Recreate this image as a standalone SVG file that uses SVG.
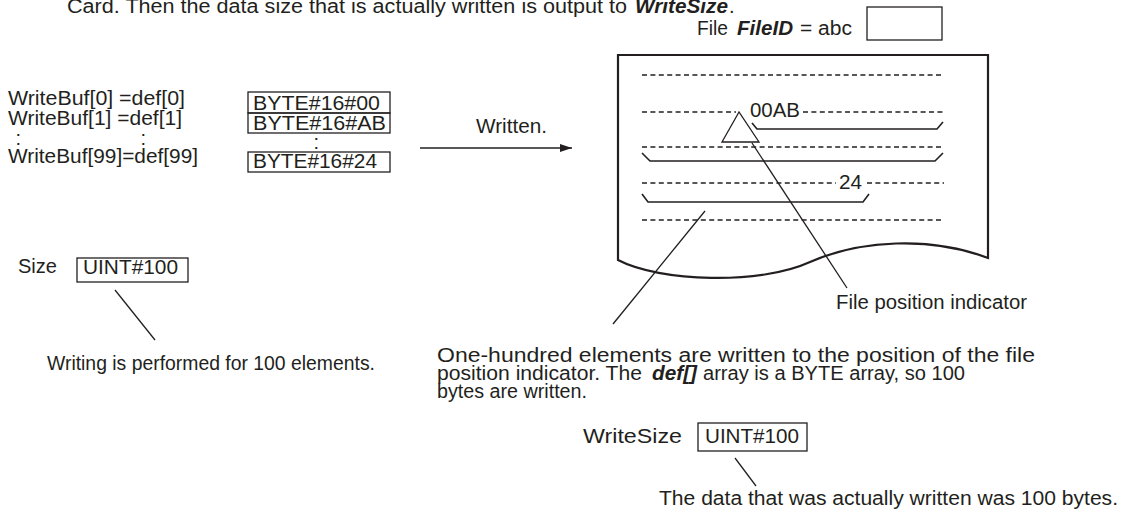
<svg xmlns="http://www.w3.org/2000/svg" width="1129" height="517" viewBox="0 0 1129 517">
<defs>
<style>
text{font-family:"Liberation Sans",Arial,sans-serif;font-size:20px;fill:#231f20}
.bi{font-weight:bold;font-style:italic}
.box{fill:none;stroke:#231f20;stroke-width:1.3}
.ln{fill:none;stroke:#231f20;stroke-width:1.3}
.dash{fill:none;stroke:#231f20;stroke-width:1.4;stroke-dasharray:5 3.4}
.page{fill:#fff;stroke:#231f20;stroke-width:2.2}
.brk{fill:none;stroke:#231f20;stroke-width:1.6}
</style>
<marker id="ah" viewBox="0 0 12 8" refX="12" refY="4" markerWidth="12" markerHeight="8" markerUnits="userSpaceOnUse" orient="auto">
<path d="M0,0 L12,4 L0,8 Z" fill="#231f20"/>
</marker>
</defs>
<rect width="1129" height="517" fill="#fff"/>

<g id="title">
<text x="67" y="12.5" textLength="560" lengthAdjust="spacingAndGlyphs">Card. Then the data size that is actually written is output to</text>
<text class="bi" x="635" y="12.5" textLength="93" lengthAdjust="spacingAndGlyphs">WriteSize</text>
<text x="729" y="12.5">.</text>
</g>

<g id="file-id">
<text x="697" y="35" textLength="31" lengthAdjust="spacingAndGlyphs">File</text>
<text class="bi" x="737" y="35" textLength="56" lengthAdjust="spacingAndGlyphs">FileID</text>
<text x="800" y="35" textLength="52" lengthAdjust="spacingAndGlyphs">= abc</text>
<rect class="box" x="867" y="7" width="75" height="33"/>
</g>

<g id="writebuf">
<text x="8" y="105" textLength="177" lengthAdjust="spacingAndGlyphs">WriteBuf[0] =def[0]</text>
<text x="8" y="125" textLength="174" lengthAdjust="spacingAndGlyphs">WriteBuf[1] =def[1]</text>
<text x="15.5" y="145">:</text>
<text x="140.5" y="145">:</text>
<text x="8" y="163" textLength="190" lengthAdjust="spacingAndGlyphs">WriteBuf[99]=def[99]</text>
</g>

<g id="byte-values">
<rect class="box" x="248" y="92" width="142" height="21"/>
<rect class="box" x="248" y="113" width="142" height="20"/>
<rect class="box" x="248" y="152" width="142" height="20"/>
<text x="253" y="110" textLength="127" lengthAdjust="spacingAndGlyphs">BYTE#16#00</text>
<text x="253" y="129.5" textLength="133" lengthAdjust="spacingAndGlyphs">BYTE#16#AB</text>
<text x="313.5" y="149">:</text>
<text x="253" y="168" textLength="124" lengthAdjust="spacingAndGlyphs">BYTE#16#24</text>
</g>

<g id="written-label">
<text x="476" y="133" textLength="71" lengthAdjust="spacingAndGlyphs">Written.</text>
</g>

<g id="file-page">
<path class="page" d="M618,260 L618,55 L988,55 L988,258 C930,236 860,240 810,262 C760,285 660,282 618,260 Z"/>
<line class="dash" x1="642" y1="75" x2="944" y2="75"/>
<line class="dash" x1="642" y1="112" x2="736" y2="112"/>
<line class="dash" x1="803" y1="112" x2="944" y2="112"/>
<line class="dash" x1="642" y1="147" x2="944" y2="147"/>
<line class="dash" x1="642" y1="183" x2="836" y2="183"/>
<line class="dash" x1="867" y1="183" x2="944" y2="183"/>
<line class="dash" x1="642" y1="220" x2="944" y2="220"/>
<text x="750" y="117" textLength="50" lengthAdjust="spacingAndGlyphs">00AB</text>
<text x="839" y="189" textLength="23" lengthAdjust="spacingAndGlyphs">24</text>
<path class="brk" d="M752,123 L757,129 L937,129 L943,122"/>
<path class="brk" d="M642,153 L650,161 L935,161 L943,153"/>
<path class="brk" d="M642,194 L648,202 L863,202 L869,194"/>
<path class="ln" d="M739,112 L722,142 L759,142 Z" fill="#fff"/>
</g>

<g id="size">
<text x="18" y="273" textLength="39" lengthAdjust="spacingAndGlyphs">Size</text>
<rect class="box" x="77" y="258" width="111" height="24"/>
<text x="83" y="274" textLength="95" lengthAdjust="spacingAndGlyphs">UINT#100</text>
</g>

<g id="size-note">
<text x="47" y="370" textLength="328" lengthAdjust="spacingAndGlyphs">Writing is performed for 100 elements.</text>
</g>

<g id="position-note">
<text x="836" y="309" textLength="191" lengthAdjust="spacingAndGlyphs">File position indicator</text>
</g>

<g id="write-note">
<text x="437" y="362" textLength="598" lengthAdjust="spacingAndGlyphs">One-hundred elements are written to the position of the file</text>
<text x="437" y="380" textLength="205" lengthAdjust="spacingAndGlyphs">position indicator. The</text>
<text class="bi" x="652" y="380" textLength="45" lengthAdjust="spacingAndGlyphs">def[]</text>
<text x="703" y="380" textLength="262" lengthAdjust="spacingAndGlyphs">array is a BYTE array, so 100</text>
<text x="437" y="398" textLength="150" lengthAdjust="spacingAndGlyphs">bytes are written.</text>
</g>

<g id="writesize">
<text x="583" y="443" textLength="99" lengthAdjust="spacingAndGlyphs">WriteSize</text>
<rect class="box" x="698" y="423" width="109" height="28"/>
<text x="705" y="443" textLength="94" lengthAdjust="spacingAndGlyphs">UINT#100</text>
</g>

<g id="writesize-note">
<text x="659" y="505" textLength="459" lengthAdjust="spacingAndGlyphs">The data that was actually written was 100 bytes.</text>
</g>

<g id="connectors">
<line class="ln" x1="420" y1="148" x2="572" y2="148" marker-end="url(#ah)"/>
<line class="ln" x1="752" y1="143" x2="847" y2="288"/>
<line class="ln" x1="705" y1="211" x2="613" y2="324"/>
<line class="ln" x1="115" y1="290" x2="155" y2="340"/>
<line class="ln" x1="735" y1="458" x2="756" y2="486"/>
</g>
</svg>
